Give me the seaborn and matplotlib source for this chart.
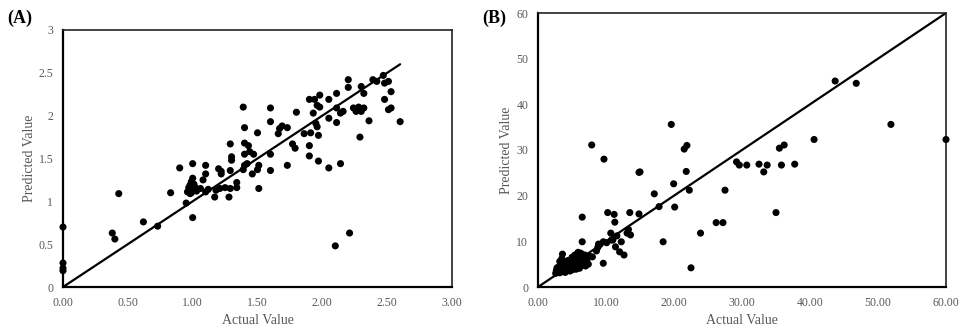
import matplotlib
matplotlib.use("Agg")
import matplotlib.pyplot as plt
import seaborn as sns
import pandas as pd

# ---------------- Panel A data ----------------
a_actual = [
    0.00, 0.00, 0.00, 0.00,
    0.38, 0.40, 0.43, 0.62, 0.73, 0.83, 0.90, 0.95, 1.00, 1.00,
    0.96, 0.97, 0.98, 0.99, 1.00, 0.98, 0.99, 1.02, 1.06, 1.08, 1.10, 1.12,
    1.18, 1.21, 1.25, 1.29, 1.00, 1.03, 1.01,
    1.10, 1.10, 1.17, 1.28, 1.20, 1.22, 1.22, 1.29, 1.29, 1.30, 1.30, 1.34, 1.34,
    1.39, 1.40, 1.40, 1.43, 1.40, 1.44, 1.47, 1.40, 1.42, 1.39, 1.46, 1.50,
    1.51, 1.50, 1.51,
    1.60, 1.60, 1.60, 1.60, 1.66, 1.67, 1.69, 1.73, 1.73, 1.77, 1.79, 1.80,
    1.86, 1.91, 1.90, 1.90, 1.97, 2.05, 2.14,
    1.90, 1.94, 1.98, 2.05, 2.11, 1.96, 1.98, 1.93, 2.05, 2.11, 2.14, 2.16,
    1.95, 1.96, 1.97, 2.11,
    2.20, 2.20, 2.30, 2.32, 2.39, 2.42, 2.47, 2.48, 2.51, 2.53, 2.48, 2.51,
    2.53, 2.60, 2.24, 2.28, 2.32, 2.26, 2.30, 2.36, 2.29,
    2.10, 2.21,
]
a_predicted = [
    0.70, 0.28, 0.22, 0.19,
    0.63, 0.56, 1.09, 0.76, 0.71, 1.10, 1.39, 0.98, 0.81, 1.44,
    1.11, 1.16, 1.19, 1.23, 1.27, 1.09, 1.10, 1.16, 1.15, 1.25, 1.11, 1.14,
    1.13, 1.15, 1.16, 1.15, 1.13, 1.12, 1.20,
    1.42, 1.32, 1.05, 1.05, 1.38, 1.35, 1.32, 1.36, 1.67, 1.52, 1.48, 1.22, 1.16,
    2.10, 1.86, 1.68, 1.65, 1.55, 1.58, 1.55, 1.42, 1.44, 1.37, 1.32, 1.37,
    1.42, 1.80, 1.15,
    2.09, 1.93, 1.55, 1.36, 1.79, 1.85, 1.88, 1.86, 1.42, 1.67, 1.62, 2.04,
    1.79, 1.80, 1.65, 1.53, 1.47, 1.39, 1.44,
    2.19, 2.19, 2.24, 2.19, 2.26, 2.12, 2.10, 2.03, 1.97, 2.09, 2.03, 2.05,
    1.91, 1.87, 1.77, 1.92,
    2.42, 2.33, 2.34, 2.26, 2.42, 2.40, 2.47, 2.38, 2.40, 2.28, 2.19, 2.07,
    2.09, 1.93, 2.09, 2.10, 2.09, 2.05, 2.05, 1.94, 1.75,
    0.48, 0.63,
]
a_fit_x = [0.0, 2.6]
a_fit_y = [0.0, 2.6]
a_xticks = [0.0, 0.5, 1.0, 1.5, 2.0, 2.5, 3.0]
a_yticks = [0, 0.5, 1, 1.5, 2, 2.5, 3]
a_ytick_labels = ["0", "0.5", "1", "1.5", "2", "2.5", "3"]

# ---------------- Panel B data ----------------
b_actual = [
    2.6, 2.7, 2.8, 2.9, 3.0, 3.1, 3.2, 3.3, 3.4, 3.5, 3.5, 3.6, 3.7, 3.8, 3.9,
    4.0, 4.1, 4.2, 4.3, 4.4, 4.5, 4.6, 4.7, 4.8, 4.9, 5.0, 5.1, 5.2, 5.3, 5.4,
    5.5, 5.6, 5.7, 5.8, 5.9, 6.0, 6.1, 6.2, 6.3, 6.5, 6.6, 6.8, 6.9, 7.0, 7.2,
    7.4, 7.5, 4.0, 3.2,
    6.5, 6.5, 7.9, 8.0, 8.6, 8.8, 8.9, 9.1, 9.6, 9.6, 9.7, 10.1, 10.25, 10.7,
    10.8, 11.0, 11.2, 11.3, 11.4, 11.6, 12.0, 12.25, 12.65, 13.1, 13.3, 13.5,
    13.6, 14.85, 14.85, 15.0, 17.1, 17.8, 18.4, 19.6, 19.95, 20.1, 21.5, 21.8,
    21.9, 22.25, 22.5, 23.9, 26.2, 27.2, 27.5, 29.2, 29.6, 30.7, 32.5, 33.2,
    33.7, 35.0, 35.5, 35.8, 36.2, 37.75, 40.6, 43.7, 46.8, 51.9, 60.0,
]
b_predicted = [
    3.0, 3.6, 4.2, 3.3, 3.8, 4.5, 3.1, 3.5, 4.0, 5.0, 6.2, 7.2, 4.4, 3.4, 3.9,
    5.5, 4.8, 3.6, 4.2, 5.8, 3.9, 4.6, 3.5, 5.2, 4.1, 6.5, 3.8, 4.9, 4.3, 7.0,
    5.6, 3.9, 4.5, 6.2, 7.6, 5.0, 4.1, 5.8, 7.4, 4.8, 6.5, 5.3, 7.0, 4.6, 6.0,
    5.0, 6.8, 3.2, 5.6,
    15.3, 9.9, 31.1, 6.6, 7.9, 8.7, 9.4, 9.3, 9.9, 5.2, 28.0, 9.7, 16.3, 11.8,
    10.3, 10.3, 15.9, 14.2, 8.8, 11.2, 7.7, 9.9, 7.0, 11.8, 12.6, 16.3,
    11.4, 16.0, 25.1, 25.2, 20.4, 17.6, 9.9, 35.6, 22.6, 17.5, 30.2, 25.3,
    31.0, 21.2, 4.2, 11.8, 14.1, 14.1, 21.2, 27.4, 26.7, 26.7, 26.9, 25.2,
    26.7, 16.3, 30.4, 26.7, 31.1, 26.9, 32.3, 45.1, 44.6, 35.6, 32.3,
]
b_fit_x = [0.0, 60.0]
b_fit_y = [0.0, 60.0]
b_xticks = [0, 10, 20, 30, 40, 50, 60]
b_yticks = [0, 10, 20, 30, 40, 50, 60]

df_a = pd.DataFrame({"Actual Value": a_actual, "Predicted Value": a_predicted})
df_b = pd.DataFrame({"Actual Value": b_actual, "Predicted Value": b_predicted})
fit_a = pd.DataFrame({"x": a_fit_x, "y": a_fit_y})
fit_b = pd.DataFrame({"x": b_fit_x, "y": b_fit_y})

sns.set_style("white")
plt.rcParams["font.family"] = ["Liberation Serif", "DejaVu Serif"]

W, H = 967, 332
fig = plt.figure(figsize=(W / 100, H / 100), dpi=100)

label_color = "#595959"


def px_axes(x0, y0, x1, y1):
    return fig.add_axes([x0 / W, 1 - y1 / H, (x1 - x0) / W, (y1 - y0) / H])


def style_axes(ax):
    for side in ("left", "bottom"):
        ax.spines[side].set_linewidth(1.6)
        ax.spines[side].set_color("black")
    for side in ("top", "right"):
        ax.spines[side].set_linewidth(1.2)
        ax.spines[side].set_color("#222222")
    ax.tick_params(direction="in", length=3, width=1.3, colors="black",
                   labelcolor=label_color, labelsize=8.5, pad=7,
                   top=False, right=False)
    ax.xaxis.label.set_color(label_color)
    ax.yaxis.label.set_color(label_color)
    ax.xaxis.label.set_size(10)
    ax.yaxis.label.set_size(10)
    ax.grid(False)


# Panel A
ax_a = px_axes(63, 30, 452, 287)
sns.scatterplot(data=df_a, x="Actual Value", y="Predicted Value", ax=ax_a,
                color="black", s=26, edgecolor="none", zorder=3, clip_on=False)
sns.lineplot(data=fit_a, x="x", y="y", ax=ax_a, color="black", linewidth=1.6,
             zorder=2)
ax_a.set_xlim(0, 3)
ax_a.set_ylim(0, 3)
ax_a.set_xticks(a_xticks)
ax_a.set_xticklabels([f"{v:.2f}" for v in a_xticks])
ax_a.set_yticks(a_yticks)
ax_a.set_yticklabels(a_ytick_labels)
ax_a.set_xlabel("Actual Value", labelpad=4)
ax_a.set_ylabel("Predicted Value", labelpad=2)
style_axes(ax_a)

# Panel B
ax_b = px_axes(538, 13, 946, 287)
sns.scatterplot(data=df_b, x="Actual Value", y="Predicted Value", ax=ax_b,
                color="black", s=26, edgecolor="none", zorder=3, clip_on=False)
sns.lineplot(data=fit_b, x="x", y="y", ax=ax_b, color="black", linewidth=1.6,
             zorder=2)
ax_b.set_xlim(0, 60)
ax_b.set_ylim(0, 60)
ax_b.set_xticks(b_xticks)
ax_b.set_xticklabels([f"{v:.2f}" for v in b_xticks])
ax_b.set_yticks(b_yticks)
ax_b.set_yticklabels([str(v) for v in b_yticks])
ax_b.set_xlabel("Actual Value", labelpad=4)
ax_b.set_ylabel("Predicted Value", labelpad=2)
style_axes(ax_b)

# Panel letters
fig.text(7 / W, 1 - 18 / H, "(A)", fontsize=13, fontweight="bold",
         va="center", ha="left", color="black")
fig.text(482 / W, 1 - 18 / H, "(B)", fontsize=13, fontweight="bold",
         va="center", ha="left", color="black")

fig.savefig("out.png", dpi=100)
